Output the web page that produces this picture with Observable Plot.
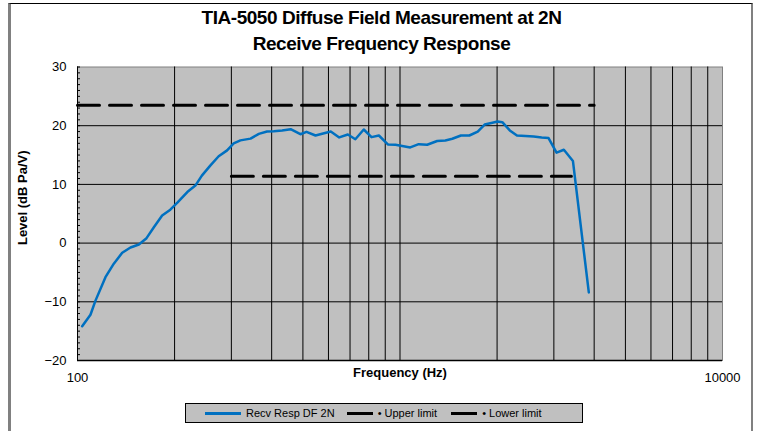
<!DOCTYPE html>
<html>
<head>
<meta charset="utf-8">
<script src="https://cdn.jsdelivr.net/npm/d3@7"></script>
<script src="https://cdn.jsdelivr.net/npm/@observablehq/plot@0.6"></script>
<style>
  html, body { margin: 0; padding: 0; background: #fff; }
  body { width: 757px; height: 431px; position: relative; overflow: hidden; font-family: "Liberation Sans", Arial, sans-serif; }
  #frame { position: absolute; left: 8px; top: 3px; width: 745px; height: 440px; border-left: 3px solid #808080; border-top: 1px solid #000; border-right: 2px solid #808080; box-sizing: border-box; }
  #title { position: absolute; left: 8px; width: 747px; top: 5px; text-align: center; font-weight: bold; font-size: 19px; line-height: 26px; letter-spacing: -0.45px; color: #000; }
  #chart { position: absolute; left: 0; top: 56px; }
  #legend { position: absolute; left: 185px; top: 403px; width: 398px; height: 20px; box-sizing: border-box; background: #C0C0C0; border: 1px solid #000; display: flex; align-items: center; font-size: 11px; color: #000; }
  .sw { display: inline-block; height: 3px; margin-right: 5px; }
  .item { display: flex; align-items: center; }
</style>
</head>
<body>
<div id="frame"></div>
<div id="title">TIA-5050 Diffuse Field Measurement at 2N<br>Receive Frequency Response</div>
<div id="chart"></div>
<div id="legend">
  <span class="item" style="margin-left:19px"><span class="sw" style="width:36px;background:#0070C0"></span>Recv Resp DF 2N</span>
  <span class="item" style="margin-left:12px"><span class="sw" style="width:26px;background:#000"></span>• Upper limit</span>
  <span class="item" style="margin-left:14px"><span class="sw" style="width:26px;background:#000"></span>• Lower limit</span>
</div>
<script>
// Measured response (Hz, dB Pa/V)
const freq = [103.4, 109.7, 113.7, 122.1, 129.6, 137.6, 146, 155, 163.7, 172.5, 183, 194, 204, 219, 232, 243, 258, 274, 291, 305, 320, 344, 365, 387, 406, 431, 458, 491, 513, 547, 610, 648, 689, 727, 772, 816, 860, 917, 968, 1076, 1143, 1214, 1304, 1382, 1453, 1545, 1641, 1742, 1830, 1920, 2007, 2076, 2190, 2305, 2450, 2597, 2750, 2888, 3058, 3222, 3437, 3850];
const level = [-14.15, -12.2, -9.8, -5.8, -3.5, -1.65, -0.75, -0.24, 0.84, 2.7, 4.7, 5.7, 6.9, 8.7, 9.8, 11.5, 13.2, 14.8, 15.8, 17.0, 17.5, 17.8, 18.6, 19.0, 19.05, 19.2, 19.4, 18.55, 18.96, 18.33, 19.0, 18.0, 18.5, 17.7, 19.35, 18.05, 18.33, 16.8, 16.75, 16.3, 16.85, 16.75, 17.4, 17.48, 17.77, 18.33, 18.33, 19.0, 20.2, 20.45, 20.7, 20.6, 19.2, 18.33, 18.25, 18.15, 18.0, 17.9, 15.4, 15.9, 14.0, -8.4];
// Limits
const upperFreq = [100, 4000];
const upperLevel = [23.5, 23.5];
const lowerFreq = [300, 3400];
const lowerLevel = [11.4, 11.4];
// Axis ticks
const xGridTicks = [200, 300, 400, 500, 600, 700, 800, 900, 1000, 2000, 3000, 4000, 5000, 6000, 7000, 8000, 9000];
const xLabelTicks = [100, 10000];
const yGridTicks = [-10, 0, 10, 20];
const yLabelTicks = [-20, -10, 0, 10, 20, 30];
const yMinorTicks = d3.range(-20, 31, 1);

const resp = freq.map((f, i) => ({f, v: level[i]}));
const upper = upperFreq.map((f, i) => ({f, v: upperLevel[i]}));
const lower = lowerFreq.map((f, i) => ({f, v: lowerLevel[i]}));

const chart = Plot.plot({
  width: 757,
  height: 335,
  marginTop: 10.5,
  marginBottom: 31,
  marginLeft: 77,
  marginRight: 35,
  style: {background: "transparent", fontFamily: "'Liberation Sans', Arial, sans-serif", color: "#000", overflow: "visible"},
  x: {type: "log", domain: [100, 10000]},
  y: {domain: [-20, 30]},
  marks: [
    Plot.frame({fill: "#C0C0C0", stroke: "#808080"}),
    Plot.gridX(xGridTicks, {stroke: "#000", strokeOpacity: 1}),
    Plot.gridY(yGridTicks, {stroke: "#000", strokeOpacity: 1}),
    Plot.ruleX([100], {stroke: "#000"}),
    Plot.ruleY([-20], {stroke: "#000", strokeWidth: 1.5}),
    Plot.axisY(yMinorTicks, {tickSize: 3, dx: 3, tickFormat: () => "", label: null}),
    Plot.axisY(yLabelTicks, {tickSize: 0, tickPadding: 11, fontSize: 13, label: null}),
    Plot.axisX(xLabelTicks, {tickSize: 0, tickPadding: 12, fontSize: 13, tickFormat: d => String(d), label: null}),
    Plot.text(["Frequency (Hz)"], {frameAnchor: "bottom", dy: 16, fontWeight: "bold", fontSize: 13}),
    Plot.text(["Level (dB Pa/V)"], {frameAnchor: "left", dx: -55, dy: -16, rotate: -90, textAnchor: "middle", fontWeight: "bold", fontSize: 13}),
    Plot.line(upper, {x: "f", y: "v", stroke: "#000", strokeWidth: 3, strokeDasharray: "22,10"}),
    Plot.line(lower, {x: "f", y: "v", stroke: "#000", strokeWidth: 3, strokeDasharray: "22,10"}),
    Plot.line(resp, {x: "f", y: "v", stroke: "#0070C0", strokeWidth: 2.5})
  ]
});
document.getElementById("chart").appendChild(chart);
</script>
</body>
</html>
